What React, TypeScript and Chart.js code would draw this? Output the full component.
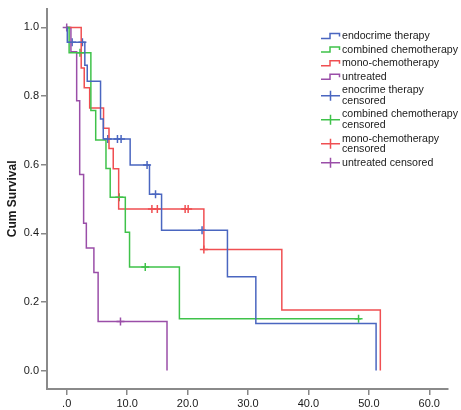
import { useEffect, useRef } from "react";
import { Chart, registerables } from "chart.js";

Chart.register(...registerables);

// ---------------- data ----------------
const groupLabels = ["endocrime therapy", "combined chemotherapy", "mono-chemotherapy", "untreated"];
const censorLabels = [
  "enocrime therapy censored",
  "combined chemotherapy censored",
  "mono-chemotherapy censored",
  "untreated censored",
];
const colors = ["#4a66c0", "#3fc24a", "#f04f52", "#9a4ea8"];

// event times (start of curve first) and survival after each step
const endoTimes = [0, 0.1, 3.0, 3.4, 5.6, 6.05, 10.5, 13.7, 15.7, 26.6, 31.3, 51.2];
const endoSurv = [1.0, 0.957, 0.89, 0.843, 0.733, 0.675, 0.599, 0.514, 0.409, 0.273, 0.137, 0];
const endoCensTimes = [0.9, 2.6, 6.8, 8.4, 9.0, 13.3, 14.7, 22.4];
const endoCensSurv = [0.957, 0.957, 0.675, 0.675, 0.675, 0.599, 0.514, 0.409];

const combTimes = [0, 0.4, 4.0, 4.8, 6.5, 7.2, 9.7, 10.4, 18.65, 48.7];
const combSurv = [1.0, 0.926, 0.758, 0.672, 0.589, 0.505, 0.403, 0.302, 0.151, 0.151];
const combCensTimes = [2.2, 8.7, 13.0, 48.3];
const combCensSurv = [0.926, 0.505, 0.302, 0.151];

const monoTimes = [0, 2.4, 2.9, 3.8, 6.1, 7.0, 7.7, 8.6, 22.7, 35.6, 51.9];
const monoSurv = [1.0, 0.882, 0.824, 0.765, 0.706, 0.647, 0.588, 0.471, 0.353, 0.176, 0];
const monoCensTimes = [14.1, 15.0, 19.6, 20.1, 22.7];
const monoCensSurv = [0.471, 0.471, 0.471, 0.471, 0.353];

const untrTimes = [0, 0.7, 1.65, 2.15, 2.8, 3.25, 4.5, 5.2, 16.6];
const untrSurv = [1.0, 0.929, 0.786, 0.571, 0.429, 0.357, 0.286, 0.143, 0];
const untrCensTimes = [0, 8.9];
const untrCensSurv = [1.0, 0.143];

const xTickValues = [0, 10, 20, 30, 40, 50, 60];
const xTickLabels = [".0", "10.0", "20.0", "30.0", "40.0", "50.0", "60.0"];
const yTickValues = [0, 0.2, 0.4, 0.6, 0.8, 1.0];
const yTickLabels = ["0.0", "0.2", "0.4", "0.6", "0.8", "1.0"];

const legendLines = [
  ["endocrime therapy"],
  ["combined chemotherapy"],
  ["mono-chemotherapy"],
  ["untreated"],
  ["enocrime therapy", "censored"],
  ["combined chemotherapy", "censored"],
  ["mono-chemotherapy", "censored"],
  ["untreated censored"],
];

const curveTimes = [endoTimes, combTimes, monoTimes, untrTimes];
const curveSurv = [endoSurv, combSurv, monoSurv, untrSurv];
const censTimes = [endoCensTimes, combCensTimes, monoCensTimes, untrCensTimes];
const censSurv = [endoCensSurv, combCensSurv, monoCensSurv, untrCensSurv];

const FONT = "Arial, 'Liberation Sans', sans-serif";

const legendPlugin = {
  id: "kmLegend",
  afterDraw(chart: any) {
    const ctx = chart.ctx as CanvasRenderingContext2D;
    ctx.save();
    ctx.font = `10.6px ${FONT}`;
    ctx.textBaseline = "middle";
    ctx.textAlign = "left";
    let y = 36;
    legendLines.forEach((lines, i) => {
      const color = colors[i % 4];
      const isLine = i < 4;
      const midY = y + ((lines.length - 1) * 10.5) / 2;
      ctx.strokeStyle = color;
      ctx.lineWidth = 1.5;
      ctx.beginPath();
      if (isLine) {
        ctx.moveTo(321, midY + 2.5);
        ctx.lineTo(330, midY + 2.5);
        ctx.lineTo(330, midY - 2.5);
        ctx.lineTo(339.5, midY - 2.5);
        ctx.lineTo(339.5, midY + 0.5);
      } else {
        ctx.moveTo(321, midY);
        ctx.lineTo(340, midY);
        ctx.moveTo(330.5, midY - 5);
        ctx.lineTo(330.5, midY + 5);
      }
      ctx.stroke();
      ctx.fillStyle = "#1a1a1a";
      lines.forEach((t, k) => {
        ctx.fillText(t, 342, y + k * 10.5);
      });
      y += (lines.length - 1) * 10.5 + 13.6;
    });
    ctx.restore();
  },
};

export default function App() {
  const ref = useRef<HTMLCanvasElement | null>(null);

  useEffect(() => {
    if (!ref.current) return;
    const datasets: any[] = [];
    groupLabels.forEach((label, i) => {
      datasets.push({
        label,
        data: curveTimes[i].map((t, k) => ({ x: t, y: curveSurv[i][k] })),
        showLine: true,
        stepped: "before",
        borderColor: colors[i],
        backgroundColor: colors[i],
        borderWidth: 1.5,
        pointRadius: 0,
        fill: false,
      });
    });
    censorLabels.forEach((label, i) => {
      datasets.push({
        label,
        data: censTimes[i].map((t, k) => ({ x: t, y: censSurv[i][k] })),
        showLine: false,
        pointStyle: "cross",
        pointRadius: 4,
        borderColor: colors[i],
        backgroundColor: colors[i],
        pointBorderWidth: 1.5,
      });
    });

    const chart = new Chart(ref.current, {
      type: "scatter",
      data: { datasets },
      plugins: [legendPlugin],
      options: {
        responsive: false,
        animation: false,
        layout: { padding: { top: 3, right: 13, left: 0, bottom: 0 } },
        plugins: { legend: { display: false }, tooltip: { enabled: false } },
        scales: {
          x: {
            type: "linear",
            min: -3.26,
            max: 63.1,
            afterBuildTicks: (s: any) => {
              s.ticks = xTickValues.map((v) => ({ value: v }));
            },
            afterFit: (s: any) => {
              s.height = 21;
            },
            ticks: {
              autoSkip: false,
              maxRotation: 0,
              padding: 2,
              color: "#1a1a1a",
              font: { family: FONT, size: 11 },
              callback: (v: any) => {
                const idx = xTickValues.indexOf(Number(v));
                return idx >= 0 ? xTickLabels[idx] : "";
              },
            },
            grid: { drawOnChartArea: false, drawTicks: true, tickLength: 6, color: "#888", lineWidth: 1.5 },
            border: { display: true, color: "#8a8a8a", width: 2 },
          },
          y: {
            type: "linear",
            min: -0.054,
            max: 1.055,
            afterBuildTicks: (s: any) => {
              s.ticks = yTickValues.map((v) => ({ value: v }));
            },
            afterFit: (s: any) => {
              s.width = 47;
            },
            ticks: {
              autoSkip: false,
              padding: 2,
              color: "#1a1a1a",
              font: { family: FONT, size: 11 },
              callback: (v: any) => {
                const idx = yTickValues.findIndex((t) => Math.abs(t - Number(v)) < 1e-6);
                return idx >= 0 ? yTickLabels[idx] : "";
              },
            },
            title: {
              display: true,
              text: "Cum Survival",
              color: "#1a1a1a",
              font: { family: FONT, size: 12, weight: "bold" },
              padding: { top: 5, bottom: 0 },
            },
            grid: { drawOnChartArea: false, drawTicks: true, tickLength: 6, color: "#888", lineWidth: 1.5 },
            border: { display: true, color: "#8a8a8a", width: 2 },
          },
        },
      },
    });
    return () => chart.destroy();
  }, []);

  return (
    <div style={{ position: "absolute", left: 0, top: 0, width: 461, height: 410, background: "#fff" }}>
      <canvas ref={ref} width={461} height={410} />
    </div>
  );
}
